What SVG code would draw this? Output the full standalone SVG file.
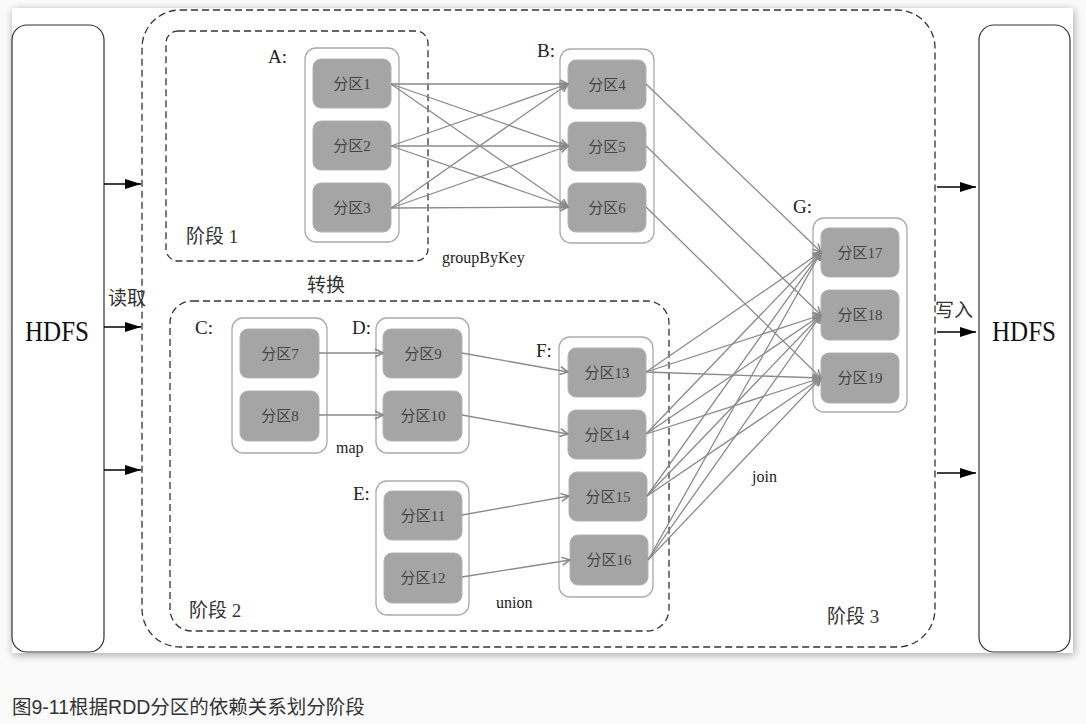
<svg xmlns="http://www.w3.org/2000/svg" width="1086" height="724" viewBox="0 0 1086 724">
<style>
.serif{font-family:"Liberation Serif","Noto Sans CJK SC",serif;}
.lbl{font-family:"Liberation Serif","Noto Sans CJK SC",serif;font-size:19px;fill:#222;}
.stage{font-family:"Liberation Serif","Noto Sans CJK SC",serif;font-size:19px;fill:#333;}
.op{font-family:"Liberation Serif","Noto Sans CJK SC",serif;font-size:16px;fill:#222;}
.grp{fill:#fff;stroke:#aaa;stroke-width:1.3;}
.part rect{fill:#a5a5a5;stroke:#b3b3b3;stroke-width:1;}
.part text{font-family:"Liberation Serif","Noto Sans CJK SC",serif;font-size:15px;fill:#444;text-anchor:middle;}
.dash{fill:none;stroke:#333;stroke-width:1.3;stroke-dasharray:7 4;}
.hdfs{fill:#fff;stroke:#333;stroke-width:1.2;}
.edge{stroke:#8a8a8a;stroke-width:1.3;fill:none;marker-end:url(#ga);}
.io{stroke:#000;stroke-width:1.3;fill:none;marker-end:url(#ba);}
</style>
<defs>
<marker id="ga" viewBox="0 0 10 10" refX="9" refY="5" markerWidth="10" markerHeight="10" markerUnits="userSpaceOnUse" orient="auto">
<path d="M1,1 L9,5 L1,9" fill="none" stroke="#8a8a8a" stroke-width="1.6"/>
</marker>
<marker id="ba" viewBox="0 0 16 10" refX="16" refY="5" markerWidth="16" markerHeight="10" markerUnits="userSpaceOnUse" orient="auto">
<path d="M0,0 L16,5 L0,10 z" fill="#000"/>
</marker>
<filter id="sh" x="-5%" y="-5%" width="110%" height="110%">
<feGaussianBlur in="SourceAlpha" stdDeviation="4"/>
<feOffset dx="1" dy="2"/>
<feComponentTransfer><feFuncA type="linear" slope="0.35"/></feComponentTransfer>
<feMerge><feMergeNode/><feMergeNode in="SourceGraphic"/></feMerge>
</filter>
</defs>
<rect x="0" y="0" width="1086" height="724" fill="#fafafa"/>
<rect x="12" y="8" width="1061" height="645" fill="#fff" filter="url(#sh)"/>

<g id="hdfs-left">
<rect class="hdfs" x="12" y="25" width="92" height="627" rx="15"/>
<text class="serif" x="57" y="341" font-size="30" text-anchor="middle" textLength="64" lengthAdjust="spacingAndGlyphs" fill="#111">HDFS</text>
</g>
<g id="hdfs-right">
<rect class="hdfs" x="979" y="25" width="91" height="627" rx="15"/>
<text class="serif" x="1024" y="341" font-size="30" text-anchor="middle" textLength="64" lengthAdjust="spacingAndGlyphs" fill="#111">HDFS</text>
</g>

<g id="stage3">
<rect class="dash" x="142" y="10" width="793" height="637" rx="38"/>
<text class="stage" x="827" y="623">阶段 3</text>
</g>
<g id="stage1">
<rect class="dash" x="166" y="31" width="262" height="230" rx="12"/>
<text class="stage" x="186" y="243">阶段 1</text>
</g>
<g id="stage2">
<rect class="dash" x="170" y="301" width="499" height="330" rx="22"/>
<text class="stage" x="189" y="617">阶段 2</text>
</g>

<g id="labels">
<text class="stage" x="108" y="305">读取</text>
<text class="stage" x="307" y="292">转换</text>
<text class="stage" x="935" y="317">写入</text>
<text class="op" x="442" y="263">groupByKey</text>
<text class="op" x="336" y="453">map</text>
<text class="op" x="496" y="608">union</text>
<text class="op" x="752" y="482">join</text>
</g>

<g id="A">
<text class="lbl" x="268" y="63">A:</text>
<rect class="grp" x="305" y="48" width="94" height="194" rx="11"/>
<g class="part"><rect x="313" y="59" width="78" height="49" rx="8"/><text x="352" y="89">分区1</text></g>
<g class="part"><rect x="313" y="121" width="78" height="49" rx="8"/><text x="352" y="151">分区2</text></g>
<g class="part"><rect x="313" y="183" width="78" height="49" rx="8"/><text x="352" y="213">分区3</text></g>
</g>
<g id="B">
<text class="lbl" x="537" y="57">B:</text>
<rect class="grp" x="560" y="49" width="94" height="194" rx="11"/>
<g class="part"><rect x="568" y="60" width="78" height="49" rx="8"/><text x="607" y="90">分区4</text></g>
<g class="part"><rect x="568" y="122" width="78" height="49" rx="8"/><text x="607" y="152">分区5</text></g>
<g class="part"><rect x="568" y="183" width="78" height="49" rx="8"/><text x="607" y="213">分区6</text></g>
</g>
<g id="G">
<text class="lbl" x="793" y="213">G:</text>
<rect class="grp" x="813" y="218" width="94" height="194" rx="11"/>
<g class="part"><rect x="821" y="228" width="78" height="49" rx="8"/><text x="860" y="258">分区17</text></g>
<g class="part"><rect x="821" y="290" width="78" height="50" rx="8"/><text x="860" y="320">分区18</text></g>
<g class="part"><rect x="821" y="353" width="78" height="50" rx="8"/><text x="860" y="383">分区19</text></g>
</g>
<g id="C">
<text class="lbl" x="195" y="334">C:</text>
<rect class="grp" x="232" y="318" width="95" height="135" rx="11"/>
<g class="part"><rect x="240" y="329" width="79" height="49" rx="8"/><text x="280" y="359">分区7</text></g>
<g class="part"><rect x="240" y="391" width="79" height="50" rx="8"/><text x="280" y="421">分区8</text></g>
</g>
<g id="D">
<text class="lbl" x="352" y="334">D:</text>
<rect class="grp" x="376" y="318" width="93" height="135" rx="11"/>
<g class="part"><rect x="383" y="329" width="79" height="49" rx="8"/><text x="423" y="359">分区9</text></g>
<g class="part"><rect x="383" y="391" width="79" height="50" rx="8"/><text x="423" y="421">分区10</text></g>
</g>
<g id="E">
<text class="lbl" x="353" y="500">E:</text>
<rect class="grp" x="376" y="481" width="93" height="134" rx="11"/>
<g class="part"><rect x="384" y="491" width="78" height="49" rx="8"/><text x="423" y="521">分区11</text></g>
<g class="part"><rect x="384" y="553" width="78" height="50" rx="8"/><text x="423" y="583">分区12</text></g>
</g>
<g id="F">
<text class="lbl" x="536" y="357">F:</text>
<rect class="grp" x="559" y="337" width="94" height="260" rx="11"/>
<g class="part"><rect x="568" y="348" width="78" height="49" rx="8"/><text x="607" y="378">分区13</text></g>
<g class="part"><rect x="568" y="410" width="78" height="49" rx="8"/><text x="607" y="440">分区14</text></g>
<g class="part"><rect x="569" y="472" width="78" height="49" rx="8"/><text x="608" y="502">分区15</text></g>
<g class="part"><rect x="570" y="535" width="78" height="50" rx="8"/><text x="609" y="565">分区16</text></g>
</g>

<g id="connectors">
<line class="io" x1="104" y1="184" x2="141" y2="184"/>
<line class="io" x1="104" y1="327" x2="141" y2="327"/>
<line class="io" x1="104" y1="470" x2="141" y2="470"/>
<line class="io" x1="937" y1="187" x2="976" y2="187"/>
<line class="io" x1="937" y1="332" x2="976" y2="332"/>
<line class="io" x1="937" y1="473" x2="976" y2="473"/>

<line class="edge" x1="391" y1="84" x2="568" y2="84"/>
<line class="edge" x1="391" y1="84" x2="568" y2="146"/>
<line class="edge" x1="391" y1="84" x2="568" y2="207"/>
<line class="edge" x1="391" y1="146" x2="568" y2="84"/>
<line class="edge" x1="391" y1="146" x2="568" y2="146"/>
<line class="edge" x1="391" y1="146" x2="568" y2="207"/>
<line class="edge" x1="391" y1="208" x2="568" y2="84"/>
<line class="edge" x1="391" y1="208" x2="568" y2="146"/>
<line class="edge" x1="391" y1="208" x2="568" y2="207"/>

<line class="edge" x1="646" y1="84" x2="821" y2="252"/>
<line class="edge" x1="646" y1="146" x2="821" y2="315"/>
<line class="edge" x1="646" y1="207" x2="821" y2="378"/>

<line class="edge" x1="319" y1="353" x2="383" y2="353"/>
<line class="edge" x1="319" y1="415" x2="383" y2="415"/>
<line class="edge" x1="462" y1="353" x2="568" y2="372"/>
<line class="edge" x1="462" y1="415" x2="568" y2="434"/>
<line class="edge" x1="462" y1="515" x2="569" y2="496"/>
<line class="edge" x1="462" y1="577" x2="570" y2="560"/>

<line class="edge" x1="646" y1="372" x2="821" y2="252"/>
<line class="edge" x1="646" y1="372" x2="821" y2="315"/>
<line class="edge" x1="646" y1="372" x2="821" y2="378"/>
<line class="edge" x1="646" y1="434" x2="821" y2="252"/>
<line class="edge" x1="646" y1="434" x2="821" y2="315"/>
<line class="edge" x1="646" y1="434" x2="821" y2="378"/>
<line class="edge" x1="647" y1="496" x2="821" y2="252"/>
<line class="edge" x1="647" y1="496" x2="821" y2="315"/>
<line class="edge" x1="647" y1="496" x2="821" y2="378"/>
<line class="edge" x1="648" y1="560" x2="821" y2="252"/>
<line class="edge" x1="648" y1="560" x2="821" y2="315"/>
<line class="edge" x1="648" y1="560" x2="821" y2="378"/>
</g>

<text x="12" y="714" font-family="'Liberation Sans','Noto Sans CJK SC',sans-serif" font-size="19.5" fill="#333">图9-11根据RDD分区的依赖关系划分阶段</text>
</svg>
